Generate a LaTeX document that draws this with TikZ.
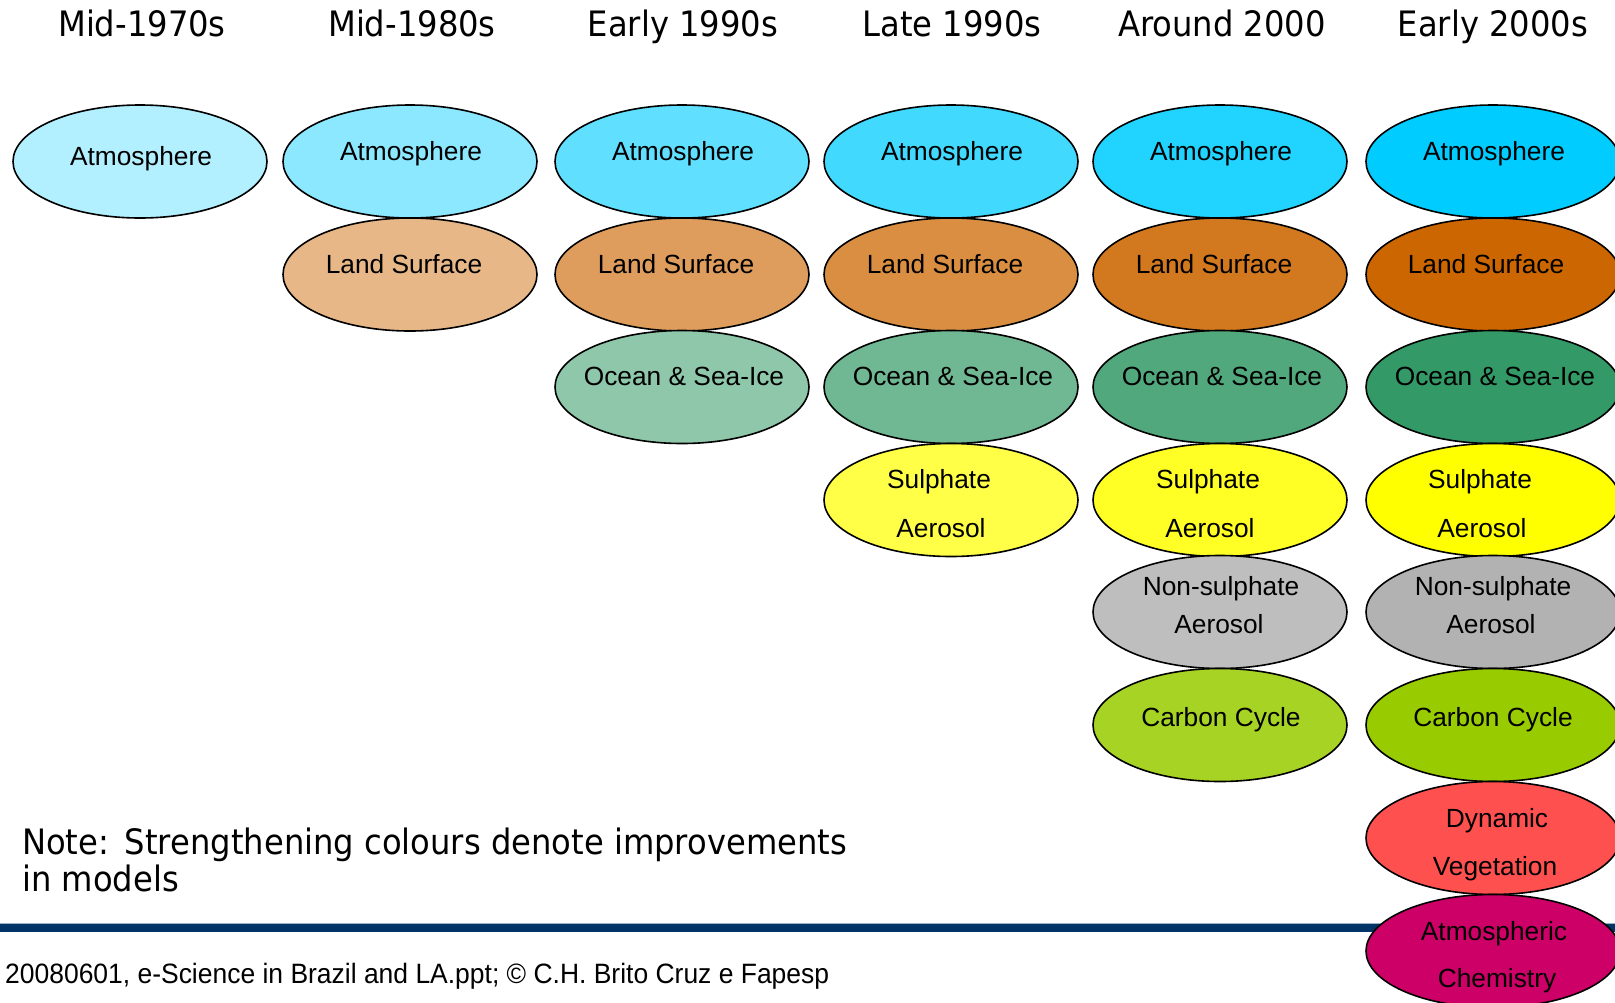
\documentclass[tikz,border=0pt]{standalone}
\usepackage{fontspec}
\setmainfont{Liberation Sans}
\newfontfamily\hdrfont[FakeStretch=0.92]{DejaVu Sans}
\newfontfamily\footfont[FakeStretch=0.945]{Liberation Sans}
\usetikzlibrary{shapes.geometric}
\definecolor{atm}{HTML}{00CCFF}
\definecolor{land}{HTML}{CC6600}
\definecolor{ocean}{HTML}{339966}
\definecolor{sulph}{HTML}{FFFF00}
\definecolor{nonsul}{HTML}{B2B2B2}
\definecolor{carbon}{HTML}{99CC00}
\definecolor{dynveg}{HTML}{FF5050}
\definecolor{atmchem}{HTML}{CC0066}
\definecolor{navy}{HTML}{003366}
\definecolor{paleline}{HTML}{9DB0C4}
\tikzset{
  cell/.style={ellipse, draw=black, line width=1.6pt, minimum width=254pt, minimum height=113pt, inner sep=0pt},
  lbl/.style={font=\fontsize{26.3}{26.3}\selectfont, text=black, inner sep=0pt, anchor=base},
  hdr/.style={font=\hdrfont\fontsize{35}{35}\selectfont, text=black, inner sep=0pt, anchor=base},
  note/.style={font=\hdrfont\fontsize{35}{35}\selectfont, text=black, inner sep=0pt, anchor=base west},
  foot/.style={font=\footfont\fontsize{28}{28}\selectfont, text=black, inner sep=0pt, anchor=base west},
}
\begin{document}
\begin{tikzpicture}[x=1pt, y=-1pt]
\useasboundingbox (0,0) rectangle (1615,1002);
% headers
\node[hdr] (h1) at (142,36) {Mid-1970s};
\node[hdr] (h2) at (412,36) {Mid-1980s};
\node[hdr] (h3) at (683,36) {Early 1990s};
\node[hdr] (h4) at (952,36) {Late 1990s};
\node[hdr] (h5) at (1222,36) {Around 2000};
\node[hdr] (h6) at (1493,36) {Early 2000s};
% separator line
\draw[navy, line width=8pt] (0,928) -- (1615,928);
\draw[paleline, line width=1pt] (0,923.5) -- (1615,923.5);
% column 1
\node[cell, fill=atm!30] (a1) at (140,161.5) {};
\node[lbl] (a1t) at (141,165) {Atmosphere};
% column 2
\node[cell, fill=atm!45] (a2) at (410,161.5) {};
\node[lbl] (a2t) at (411,160.5) {Atmosphere};
\node[cell, fill=land!47] (l2) at (410,274.5) {};
\node[lbl] (l2t) at (404,273) {Land Surface};
% column 3
\node[cell, fill=atm!62] (a3) at (682,161.5) {};
\node[lbl] (a3t) at (683,160.5) {Atmosphere};
\node[cell, fill=land!64] (l3) at (682,274.5) {};
\node[lbl] (l3t) at (676,273) {Land Surface};
\node[cell, fill=ocean!55] (o3) at (682,387) {};
\node[lbl] (o3t) at (684,385) {Ocean \& Sea-Ice};
% column 4
\node[cell, fill=atm!74] (a4) at (951,161.5) {};
\node[lbl] (a4t) at (952,160.5) {Atmosphere};
\node[cell, fill=land!74] (l4) at (951,274.5) {};
\node[lbl] (l4t) at (945,273) {Land Surface};
\node[cell, fill=ocean!70] (o4) at (951,387) {};
\node[lbl] (o4t) at (953,385) {Ocean \& Sea-Ice};
\node[cell, fill=sulph!72] (s4) at (951,500) {};
\node[lbl] (s4t) at (939,488) {Sulphate};
\node[lbl] (s4u) at (941,537) {Aerosol};
% column 5
\node[cell, fill=atm!87] (a5) at (1220,161.5) {};
\node[lbl] (a5t) at (1221,160.5) {Atmosphere};
\node[cell, fill=land!88] (l5) at (1220,274.5) {};
\node[lbl] (l5t) at (1214,273) {Land Surface};
\node[cell, fill=ocean!85] (o5) at (1220,387) {};
\node[lbl] (o5t) at (1222,385) {Ocean \& Sea-Ice};
\node[cell, fill=sulph!85] (s5) at (1220,500) {};
\node[lbl] (s5t) at (1208,488) {Sulphate};
\node[lbl] (s5u) at (1210,537) {Aerosol};
\node[cell, fill=nonsul!85] (n5) at (1220,612) {};
\node[lbl] (n5t) at (1221,595) {Non-sulphate};
\node[lbl] (n5u) at (1219,633) {Aerosol};
\node[cell, fill=carbon!86] (c5) at (1220,725) {};
\node[lbl] (c5t) at (1221,726) {Carbon Cycle};
% column 6
\node[cell, fill=atm] (a6) at (1493,161.5) {};
\node[lbl] (a6t) at (1494,160.5) {Atmosphere};
\node[cell, fill=land] (l6) at (1493,274.5) {};
\node[lbl] (l6t) at (1486,273) {Land Surface};
\node[cell, fill=ocean] (o6) at (1493,387) {};
\node[lbl] (o6t) at (1495,385) {Ocean \& Sea-Ice};
\node[cell, fill=sulph] (s6) at (1493,500) {};
\node[lbl] (s6t) at (1480,488) {Sulphate};
\node[lbl] (s6u) at (1482,537) {Aerosol};
\node[cell, fill=nonsul] (n6) at (1493,612) {};
\node[lbl] (n6t) at (1493,595) {Non-sulphate};
\node[lbl] (n6u) at (1491,633) {Aerosol};
\node[cell, fill=carbon] (c6) at (1493,725) {};
\node[lbl] (c6t) at (1493,726) {Carbon Cycle};
\node[cell, fill=dynveg] (d6) at (1493,838) {};
\node[lbl] (d6t) at (1497,827) {Dynamic};
\node[lbl] (d6u) at (1495,875) {Vegetation};
\node[cell, fill=atmchem] (k6) at (1493,951) {};
\node[lbl] (k6t) at (1494,940) {Atmospheric};
\node[lbl] (k6u) at (1497,987) {Chemistry};
% note and footer
\node[note] (n1) at (22,854) {Note:\hspace{2pt} Strengthening colours denote improvements};
\node[note] (n2) at (22,891) {in models};
\node[foot] (ft) at (5,983) {20080601, e-Science in Brazil and LA.ppt; \textcopyright\ C.H. Brito Cruz e Fapesp};
\end{tikzpicture}
\end{document}
